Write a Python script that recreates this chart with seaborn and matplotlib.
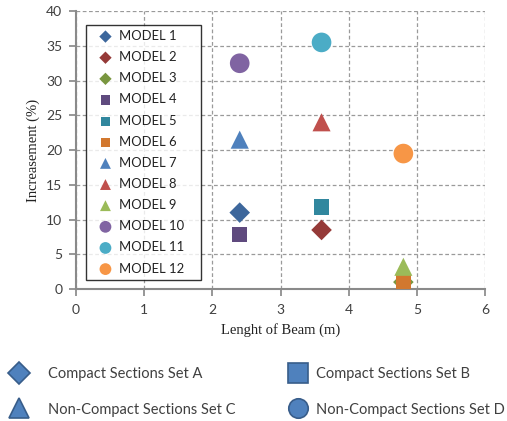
import matplotlib
matplotlib.use("Agg")
import matplotlib.pyplot as plt
import seaborn as sns
import pandas as pd
from matplotlib.lines import Line2D

models = [f"MODEL {i}" for i in range(1, 13)]
length_m = [2.4, 3.6, 4.8, 2.4, 3.6, 4.8, 2.4, 3.6, 4.8, 2.4, 3.6, 4.8]
increase_pct = [11.0, 8.5, 1.0, 7.8, 11.8, 1.0, 21.5, 24.0, 3.2, 32.5, 35.5, 19.5]
marker_of = ["D", "D", "D", "s", "s", "s", "^", "^", "^", "o", "o", "o"]
colors = ["#3D679C", "#953A38", "#79963F", "#5F4A7E", "#31879E", "#D2782F",
          "#4F81BD", "#C0504D", "#9BBB59", "#8064A2", "#4BACC6", "#F79646"]
marker_size = {"D": 110, "s": 120, "^": 170, "o": 200}

set_labels_col1 = ["Compact Sections Set A", "Non-Compact Sections Set C"]
set_markers_col1 = ["D", "^"]
set_labels_col2 = ["Compact Sections Set B", "Non-Compact Sections Set D"]
set_markers_col2 = ["s", "o"]
legend_marker_size = {"D": 11, "^": 14, "s": 14, "o": 14}

df = pd.DataFrame({"model": models, "x": length_m, "y": increase_pct,
                   "marker": marker_of, "color": colors})

sns.set_theme(style="white")
plt.rcParams['font.family'] = ['Lato', 'DejaVu Sans']

fig = plt.figure(figsize=(5.07, 4.21), dpi=100)
ax = fig.add_axes([0.150, 0.3135, 0.807, 0.660])

for _, r in df.iterrows():
    sns.scatterplot(x=[r["x"]], y=[r["y"]], ax=ax, marker=r["marker"],
                    color=r["color"], s=marker_size[r["marker"]],
                    edgecolor="none", label=r["model"], zorder=3)

ax.set_xlim(0, 6)
ax.set_ylim(0, 40)
ax.set_xticks(range(0, 7))
ax.set_yticks(range(0, 41, 5))
ax.grid(True, color="#9A9A9A", linestyle=(0, (3, 2)), linewidth=0.9)
for s in ["top", "right"]:
    ax.spines[s].set_visible(False)
for s in ["left", "bottom"]:
    ax.spines[s].set_color("#8A8A8A")
    ax.spines[s].set_linewidth(1.5)
ax.tick_params(axis="both", which="both", direction="out", length=5,
               color="#8A8A8A", labelsize=10, labelcolor="#404040")
ax.tick_params(axis="y", pad=5)
ax.tick_params(axis="x", pad=6)
ax.tick_params(left=True, bottom=True)
ax.set_xlabel("Lenght of Beam (m)", family="Liberation Serif", fontsize=10.5,
              color="#222222", labelpad=5)
ax.set_ylabel("Increasement (%)", family="Liberation Serif", fontsize=10.5,
              color="#222222", labelpad=4)

leg = ax.legend(loc="upper left", bbox_to_anchor=(0.024, 0.0, 0.281, 0.951),
                mode="expand", fontsize=9.4,
                frameon=True, fancybox=False, edgecolor="black",
                handlelength=2.2, handletextpad=-0.1, labelspacing=0.7,
                borderpad=0.4, markerscale=0.6, borderaxespad=0)
leg.get_frame().set_linewidth(1.0)
for t in leg.get_texts():
    t.set_color("#222222")


def set_handles(markers):
    return [Line2D([], [], linestyle="none", marker=m,
                   markersize=legend_marker_size[m],
                   markerfacecolor="#4F81BD", markeredgecolor="#385D8A",
                   markeredgewidth=1.2) for m in markers]


fig.legend(set_handles(set_markers_col1), set_labels_col1, loc="upper left",
           bbox_to_anchor=(0.003, 0.143), frameon=False, fontsize=10.5,
           handlelength=1.6, handletextpad=1.2, labelspacing=1.5,
           labelcolor="#404040", borderaxespad=0)
fig.legend(set_handles(set_markers_col2), set_labels_col2, loc="upper left",
           bbox_to_anchor=(0.553, 0.143), frameon=False, fontsize=10.5,
           handlelength=1.6, handletextpad=0.45, labelspacing=1.5,
           labelcolor="#404040", borderaxespad=0)

fig.savefig("out.png", dpi=100)
